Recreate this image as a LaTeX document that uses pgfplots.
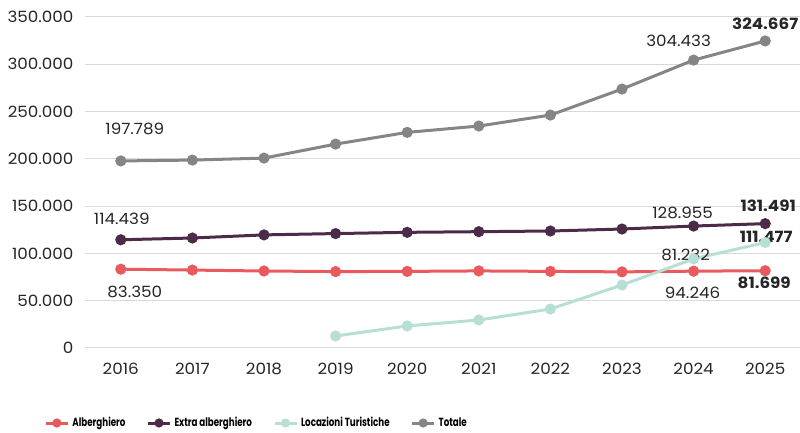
\documentclass[border=0pt]{standalone}
\usepackage{pgfplots}
\pgfplotsset{compat=1.18}
\usepackage{fontspec}
\setmainfont{Poppins}
\newfontfamily\numfont[FakeStretch=1.08]{Poppins}
\newfontfamily\legfont[FakeStretch=0.74]{Poppins}

\definecolor{alb}{HTML}{E85A5E}
\definecolor{extra}{HTML}{4B2B47}
\definecolor{loc}{HTML}{B7DFD6}
\definecolor{tot}{HTML}{858585}
\definecolor{gridc}{HTML}{D9D9D9}
\definecolor{txt}{HTML}{262626}

\begin{document}
\begin{tikzpicture}
\path[use as bounding box] (-85pt,-85pt) rectangle (715pt,348pt);
\begin{axis}[
    scale only axis,
    width=716pt, height=331pt,
    xmin=-0.5, xmax=9.5,
    ymin=0, ymax=350000,
    xtick=data,
    xticklabels={2016,2017,2018,2019,2020,2021,2022,2023,2024,2025},
    ytick={0,50000,100000,150000,200000,250000,300000,350000},
    yticklabels={0,50.000,100.000,150.000,200.000,250.000,300.000,350.000},
    scaled y ticks=false,
    axis line style={draw=none},
    major tick length=0pt,
    ymajorgrids,
    grid style={gridc, line width=1pt},
    tick label style={font=\numfont\fontsize{15.5}{17}\selectfont, text=txt},
    yticklabel style={xshift=-8pt},
    xticklabel style={yshift=-12pt},
    every axis plot/.append style={line width=3pt, mark=*, mark size=4pt},
    legend columns=4,
    legend style={at={(-0.057,-0.2266)}, anchor=west, draw=none, fill=none,
        inner sep=0pt, font=\legfont\fontsize{11.8}{13}\selectfont\bfseries,
        /tikz/every odd column/.append style={column sep=1pt},
        /tikz/every even column/.append style={column sep=19pt}},
    legend image code/.code={\draw[mark repeat=2,mark phase=2,line width=3pt,mark size=3pt]
        plot coordinates {(0pt,0pt)(11pt,0pt)(22pt,0pt)};},
]
\addplot[alb] coordinates {(0,83350)(1,82400)(2,81400)(3,80800)(4,81000)(5,81500)(6,81000)(7,80500)(8,81232)(9,81699)};
\addlegendentry{Alberghiero}
\addplot[extra] coordinates {(0,114439)(1,116300)(2,119600)(3,121000)(4,122300)(5,123000)(6,123700)(7,125800)(8,128955)(9,131491)};
\addlegendentry{Extra alberghiero}
\addplot[loc] coordinates {(3,12700)(4,23300)(5,29600)(6,41200)(7,66600)(8,94246)(9,111477)};
\addlegendentry{Locazioni Turistiche}
\addplot[tot] coordinates {(0,197789)(1,198700)(2,200800)(3,215600)(4,228000)(5,234700)(6,246300)(7,273800)(8,304433)(9,324667)};
\addlegendentry{Totale}

\begin{scope}[every node/.style={font=\numfont\fontsize{15.5}{17}\selectfont, text=txt, inner sep=0pt}]
\node at ([shift={(14pt,32pt)}]axis cs:0,197789) {197.789};
\node at ([shift={(1pt,21pt)}]axis cs:0,114439) {114.439};
\node at ([shift={(14pt,-23pt)}]axis cs:0,83350) {83.350};
\node at ([shift={(-15pt,19pt)}]axis cs:8,304433) {304.433};
\node at ([shift={(-11pt,13pt)}]axis cs:8,128955) {128.955};
\node at ([shift={(-8pt,16pt)}]axis cs:8,81232) {81.232};
\node at ([shift={(-1pt,-34pt)}]axis cs:8,94246) {94.246};
\node[font=\numfont\fontsize{15.5}{17}\selectfont\bfseries] at ([shift={(0pt,17pt)}]axis cs:9,324667) {324.667};
\node[font=\numfont\fontsize{15.5}{17}\selectfont\bfseries] at ([shift={(3pt,18pt)}]axis cs:9,131491) {131.491};
\node[font=\numfont\fontsize{15.5}{17}\selectfont\bfseries] at ([shift={(1pt,6pt)}]axis cs:9,111477) {111.477};
\node[font=\numfont\fontsize{15.5}{17}\selectfont\bfseries] at ([shift={(-1pt,-12pt)}]axis cs:9,81699) {81.699};
\end{scope}
\end{axis}
\end{tikzpicture}
\end{document}
